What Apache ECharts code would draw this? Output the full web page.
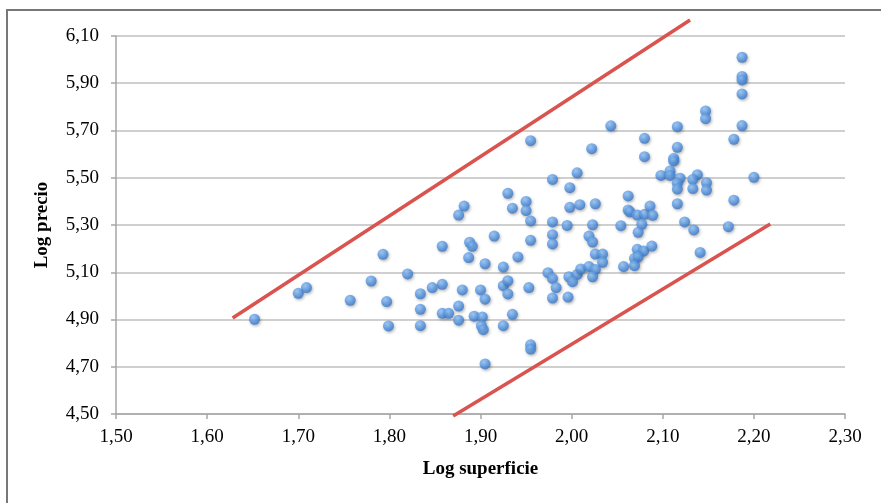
<!DOCTYPE html>
<html style="height: 100%">
<head>
    <meta charset="utf-8">
</head>
<body style="height: 100%; margin: 0; background: #fff">
<div id="container" style="width: 881px; height: 503px"></div>
<script type="text/javascript" src="https://cdn.jsdelivr.net/npm/echarts@6/dist/echarts.min.js"></script>
<script type="text/javascript">
var dom = document.getElementById("container");
var myChart = echarts.init(dom);

// log superficie, log precio
var puntos = [
    [1.652, 4.901], [1.700, 5.011], [1.709, 5.035], [1.757, 4.981], [1.780, 5.063],
    [1.793, 5.176], [1.797, 4.976], [1.799, 4.873],
    [1.979, 5.493], [2.006, 5.521], [1.998, 5.458], [1.930, 5.434], [1.950, 5.400],
    [1.882, 5.380], [1.876, 5.342], [1.935, 5.371], [1.950, 5.361], [1.998, 5.375],
    [2.009, 5.386], [1.955, 5.317], [1.979, 5.313], [1.995, 5.298], [1.915, 5.253],
    [1.955, 5.235], [1.979, 5.259], [1.979, 5.220], [1.858, 5.210], [1.888, 5.227],
    [1.891, 5.210], [1.887, 5.162], [1.905, 5.136], [1.941, 5.165], [1.925, 5.122],
    [1.820, 5.093], [1.974, 5.098], [1.979, 5.074], [1.997, 5.081], [2.006, 5.091],
    [2.001, 5.060], [2.010, 5.114], [1.983, 5.035], [1.858, 5.049], [1.847, 5.035],
    [1.834, 5.009], [1.880, 5.025], [1.900, 5.025], [1.925, 5.043], [1.930, 5.064],
    [1.905, 4.986], [1.930, 5.008], [1.953, 5.035], [1.979, 4.991], [1.996, 4.995],
    [1.834, 4.943], [1.876, 4.957], [1.858, 4.926], [1.865, 4.926], [1.876, 4.897],
    [1.893, 4.914], [1.902, 4.911], [1.901, 4.874], [1.903, 4.857], [1.935, 4.922],
    [1.925, 4.874], [1.834, 4.874], [1.955, 4.793], [1.955, 4.775], [1.905, 4.712],
    [2.147, 5.783], [2.147, 5.750], [2.043, 5.720], [2.116, 5.716], [2.187, 5.721],
    [2.080, 5.667], [2.178, 5.663], [2.022, 5.623], [2.116, 5.629], [2.080, 5.589],
    [2.112, 5.582], [2.112, 5.571], [2.098, 5.510], [2.108, 5.529], [2.108, 5.510],
    [2.119, 5.498], [2.138, 5.513], [2.133, 5.493], [2.148, 5.479], [2.148, 5.448],
    [2.133, 5.454], [2.116, 5.477], [2.116, 5.452], [2.200, 5.502], [2.026, 5.390],
    [2.062, 5.423], [2.116, 5.390], [2.178, 5.405], [2.062, 5.364], [2.064, 5.356],
    [2.072, 5.342], [2.080, 5.345], [2.086, 5.380], [2.089, 5.341], [2.023, 5.301],
    [2.054, 5.297], [2.077, 5.303], [2.073, 5.269], [2.124, 5.313], [2.134, 5.279],
    [2.172, 5.293], [2.019, 5.253], [2.023, 5.228], [2.026, 5.177], [2.034, 5.177],
    [2.034, 5.142], [2.072, 5.197], [2.079, 5.190], [2.088, 5.211], [2.069, 5.159],
    [2.073, 5.165], [2.069, 5.128], [2.057, 5.124], [2.141, 5.184], [2.019, 5.124],
    [2.026, 5.112], [2.023, 5.081],
    [2.187, 6.010], [2.187, 5.929], [2.187, 5.914], [2.187, 5.855], [1.955, 5.657]
];

// rectas limite
var lineaSuperior = [[1.628, 4.906], [2.130, 6.168]];
var lineaInferior = [[1.870, 4.492], [2.218, 5.304]];

var xTicks = { min: 1.5, max: 2.3, interval: 0.1 };
var yTicks = { min: 4.5, max: 6.1, interval: 0.2 };

function coma(v) {
    return v.toFixed(2).replace('.', ',');
}

var serif = '"Liberation Serif", "Times New Roman", serif';

var option = {
    backgroundColor: '#fff',
    animation: false,
    graphic: [{
        type: 'rect',
        shape: { x: 7, y: 10, width: 900, height: 520 },
        style: { fill: 'none', stroke: '#777', lineWidth: 2 },
        silent: true
    }],
    grid: { left: 116, right: 36, top: 36, bottom: 89 },
    xAxis: {
        type: 'value',
        min: xTicks.min, max: xTicks.max, interval: xTicks.interval,
        name: 'Log superficie',
        nameLocation: 'middle',
        nameGap: 46,
        nameTextStyle: { fontFamily: serif, fontWeight: 'bold', fontSize: 19, color: '#000' },
        axisLine: { lineStyle: { color: '#a6a6a6', width: 1.5 } },
        axisTick: { show: true, length: 5, lineStyle: { color: '#a6a6a6', width: 1.5 } },
        axisLabel: { formatter: coma, fontFamily: serif, fontSize: 19, color: '#000', margin: 14 },
        splitLine: { show: false }
    },
    yAxis: {
        type: 'value',
        min: yTicks.min, max: yTicks.max, interval: yTicks.interval,
        name: 'Log precio',
        nameLocation: 'middle',
        nameGap: 64,
        nameTextStyle: { fontFamily: serif, fontWeight: 'bold', fontSize: 19, color: '#000' },
        axisLine: { show: true, lineStyle: { color: '#a6a6a6', width: 1.5 } },
        axisTick: { show: true, length: 5, lineStyle: { color: '#a6a6a6', width: 1.5 } },
        axisLabel: { formatter: coma, fontFamily: serif, fontSize: 19, color: '#000', margin: 17 },
        splitLine: { lineStyle: { color: '#bfbfbf', width: 1.5 } }
    },
    series: [
        {
            type: 'line',
            data: lineaSuperior,
            showSymbol: false,
            clip: false,
            silent: true,
            lineStyle: { color: '#d9534f', width: 3.5 },
            z: 3
        },
        {
            type: 'line',
            data: lineaInferior,
            showSymbol: false,
            clip: false,
            silent: true,
            lineStyle: { color: '#d9534f', width: 3.5 },
            z: 3
        },
        {
            type: 'scatter',
            data: puntos,
            symbolSize: 11,
            itemStyle: {
                color: new echarts.graphic.RadialGradient(0.4, 0.35, 0.7, [
                    { offset: 0, color: '#93c4f7' },
                    { offset: 0.6, color: '#4f92e2' },
                    { offset: 1, color: '#3670c0' }
                ]),
                shadowColor: 'rgba(0,0,0,0.35)',
                shadowBlur: 3,
                shadowOffsetX: 1,
                shadowOffsetY: 1.5
            },
            z: 4
        }
    ]
};

myChart.setOption(option);
</script>
</body>
</html>
